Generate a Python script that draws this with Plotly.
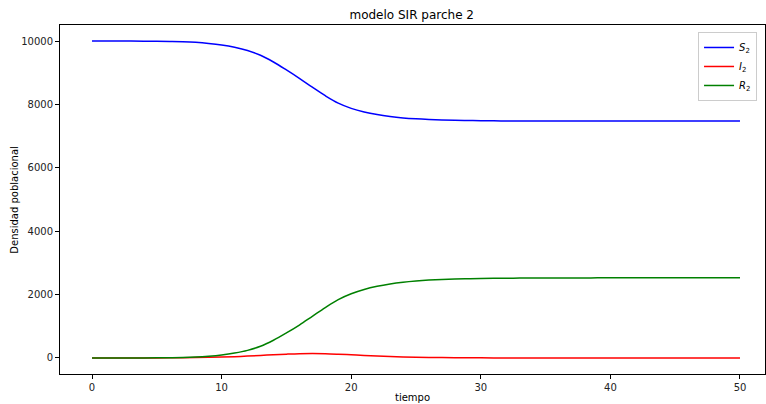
import plotly.graph_objects as go

t = list(range(0, 51))

S2 = [10000, 9999, 9998, 9997, 9995, 9992, 9987, 9978, 9959, 9925,
      9875, 9802, 9700, 9550, 9338, 9088, 8823, 8543, 8274, 8040,
      7875, 7760, 7678, 7618, 7575, 7545, 7524, 7509, 7499, 7492,
      7485, 7481, 7479, 7477, 7476, 7475, 7475, 7475, 7475, 7475,
      7475, 7475, 7475, 7475, 7475, 7475, 7475, 7475, 7475, 7475, 7475]

I2 = [0, 0.3, 0.6, 1, 2, 3, 5, 8, 13, 20,
      30, 43, 60, 80, 102, 122, 137, 142, 136, 120,
      100, 80, 62, 47, 35, 26, 19, 14, 10, 7,
      5, 3.6, 2.6, 1.9, 1.4, 1, 0.7, 0.5, 0.4, 0.3,
      0.2, 0.15, 0.1, 0.08, 0.06, 0.04, 0.03, 0.02, 0.02, 0.01, 0.01]

R2 = [0, 0.5, 1, 2, 3, 5, 8, 14, 28, 55,
      95, 155, 240, 370, 560, 790, 1040, 1315, 1590, 1840,
      2025, 2160, 2260, 2335, 2390, 2429, 2457, 2477, 2491, 2501,
      2510, 2515, 2518, 2521, 2523, 2525, 2526, 2527, 2527, 2528,
      2528, 2529, 2529, 2529, 2530, 2530, 2530, 2530, 2530, 2530, 2530]

x_ticks = [0, 10, 20, 30, 40, 50]
y_ticks = [0, 2000, 4000, 6000, 8000, 10000]

series = [
    ("<i>S</i><sub>2</sub>", S2, "#0000ff"),
    ("<i>I</i><sub>2</sub>", I2, "#ff0000"),
    ("<i>R</i><sub>2</sub>", R2, "#008000"),
]

fig = go.Figure()
for name, vals, col in series:
    fig.add_trace(go.Scatter(x=t, y=vals, mode="lines", name=name,
                             line=dict(color=col, width=1.5, shape="spline", smoothing=1.0)))

font = "DejaVu Sans"
fig.update_layout(
    width=766, height=404,
    margin=dict(l=60, r=1, t=25, b=30, autoexpand=False),
    paper_bgcolor="white", plot_bgcolor="white",
    font=dict(family=font, size=10, color="#222"),
    title=dict(text="modelo SIR parche 2", x=0.5375, xanchor="center", y=0.963, yanchor="middle",
               font=dict(family=font, size=12, color="black")),
    legend=dict(x=0.9887, y=0.98, xanchor="right", yanchor="top",
                bgcolor="rgba(255,255,255,0.8)", bordercolor="#cccccc", borderwidth=1,
                font=dict(family=font, size=10, color="black"), itemwidth=30,
                tracegroupgap=0),
    showlegend=True,
    annotations=[
        dict(text="tiempo", xref="paper", yref="paper", x=0.5, y=-0.068, xanchor="center",
             yanchor="middle", showarrow=False, font=dict(family=font, size=10, color="black")),
        dict(text="Densidad poblacional", xref="paper", yref="paper", x=-0.065, y=0.5,
             xanchor="center", yanchor="middle", textangle=-90, showarrow=False,
             font=dict(family=font, size=10, color="black")),
    ],
)
fig.update_xaxes(range=[-2.47, 51.93], tickvals=x_ticks, ticktext=[str(v) for v in x_ticks],
                 showgrid=False, zeroline=False, showline=True, linecolor="black", linewidth=1,
                 mirror=True, ticks="outside", ticklen=4, tickcolor="black", automargin=False)
fig.update_yaxes(range=[-505, 10505], tickvals=y_ticks, ticktext=[str(v) for v in y_ticks],
                 showgrid=False, zeroline=False, showline=True, linecolor="black", linewidth=1,
                 mirror=True, ticks="outside", ticklen=4, tickcolor="black", automargin=False)

fig.write_html("out.html", config={"displayModeBar": False},
               post_script="document.body.style.margin='0';document.body.style.overflow='hidden';")
